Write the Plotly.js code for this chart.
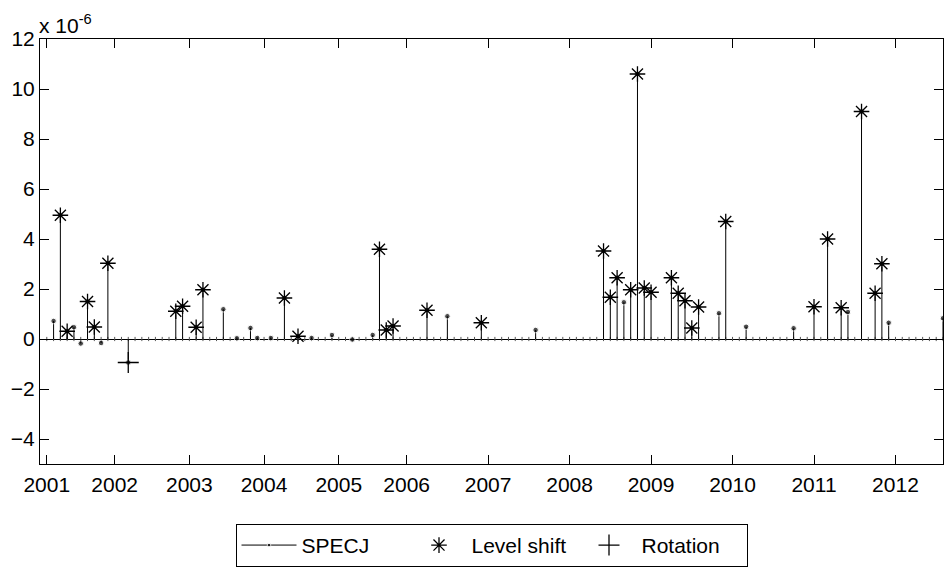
<!DOCTYPE html>
<html>
<head>
<meta charset="utf-8">
<script src="https://cdn.plot.ly/plotly-3.0.1.min.js"></script>
<style>html,body{margin:0;padding:0;background:#fff;}#chart{width:944px;height:570px;}</style>
</head>
<body>
<div id="chart"></div>
<script>
// Observation count (x axis is the observation index)
const nObs = 133;
// Year labels and the observation index where each year starts
const yearLabels = ['2001','2002','2003','2004','2005','2006','2007','2008','2009','2010','2011','2012'];
const yearStartIdx = [1, 11, 22, 33, 44, 54, 66, 78, 90, 102, 114, 126];
// SPECJ non-zero observations (index, value in units of 1e-6)
const specjIdx = [2,3,4,5,6,7,8,9,10,13,20,21,23,24,27,29,31,32,34,36,38,40,43,46,49,50,51,52,57,60,65,73,83,84,85,86,87,88,89,90,93,94,95,96,97,100,101,104,111,114,116,118,119,121,123,124,125,133];
const specjVal = [0.72,4.95,0.31,0.47,-0.18,1.5,0.48,-0.16,3.03,-0.94,1.11,1.31,0.47,1.97,1.19,0.03,0.44,0.04,0.04,1.64,0.11,0.04,0.16,-0.02,0.16,3.59,0.36,0.52,1.15,0.91,0.65,0.36,3.52,1.67,2.45,1.47,1.97,10.6,2.04,1.87,2.45,1.83,1.53,0.44,1.28,1.03,4.7,0.49,0.43,1.29,4.0,1.25,1.08,9.1,1.83,3.01,0.65,0.83];
// Observations flagged as level shifts and rotations
const levelShiftIdx = [3,4,7,8,10,20,21,23,24,36,38,50,51,52,57,65,83,84,85,87,88,89,90,93,94,95,96,97,101,114,116,118,121,123,124];
const rotationIdx = [13];

const valueAt = {};
specjIdx.forEach((k, i) => { valueAt[k] = specjVal[i]; });

// stems
const sx = [], sy = [], ss = [];
specjIdx.forEach((k, i) => {
  sx.push(k, k, null); sy.push(0, specjVal[i], null); ss.push(0, 5.5, 5.5);
});
const allIdx = [];
for (let i = 1; i <= nObs; i++) allIdx.push(i);

const FONT = 'Liberation Sans, Arial, sans-serif';
const FS = 21;

const traces = [
  { x: allIdx, y: allIdx.map(() => 0), type: 'scatter', mode: 'markers', showlegend: false, hoverinfo: 'skip',
    marker: { symbol: 'line-ns-open', size: 3, color: '#555', line: { color: '#555', width: 1 } } },
  { x: sx, y: sy, type: 'scatter', mode: 'lines+markers', name: 'SPECJ', connectgaps: false,
    line: { color: '#000', width: 1 },
    marker: { symbol: 'circle', size: ss, color: '#000' } },
  { x: levelShiftIdx, y: levelShiftIdx.map(k => valueAt[k]), type: 'scatter', mode: 'markers', name: 'Level shift',
    marker: { symbol: 'asterisk-open', size: 13, color: '#000', line: { color: '#000', width: 1.3 } } },
  { x: rotationIdx, y: rotationIdx.map(k => valueAt[k]), type: 'scatter', mode: 'markers', name: 'Rotation',
    marker: { symbol: 'cross-thin-open', size: 15, color: '#000', line: { color: '#000', width: 1.3 } } }
];

const layout = {
  width: 944, height: 570,
  margin: { l: 40, r: 1, t: 39, b: 106, autoexpand: false },
  paper_bgcolor: '#fff', plot_bgcolor: '#fff',
  font: { family: FONT, size: FS, color: '#000' },
  showlegend: true,
  legend: {
    orientation: 'h', x: 0.5, xanchor: 'center', y: -0.141, yanchor: 'top',
    bordercolor: '#000', borderwidth: 1, bgcolor: '#fff',
    font: { family: FONT, size: FS, color: '#000' }, itemwidth: 55,
    entrywidth: 100, entrywidthmode: 'pixels'
  },
  xaxis: {
    range: [0, nObs], tickmode: 'array', tickvals: yearStartIdx, ticktext: yearLabels,
    ticks: 'inside', ticklen: 9, tickcolor: '#000', tickwidth: 1, ticklabelstandoff: 2,
    showline: true, linecolor: '#000', linewidth: 1, mirror: 'allticks',
    showgrid: false, zeroline: false, tickfont: { family: FONT, size: FS, color: '#000' }
  },
  yaxis: {
    range: [-5, 12], tickmode: 'array', tickvals: [-4,-2,0,2,4,6,8,10,12],
    ticks: 'inside', ticklen: 9, tickcolor: '#000', tickwidth: 1,
    showline: true, linecolor: '#000', linewidth: 1, mirror: 'allticks',
    showgrid: false, zeroline: true, zerolinecolor: '#000', zerolinewidth: 1,
    tickfont: { family: FONT, size: FS, color: '#000' }
  },
  annotations: [{
    text: 'x 10<sup>-6</sup>', xref: 'paper', yref: 'paper', x: 0, y: 1, xanchor: 'left', yanchor: 'bottom',
    showarrow: false, font: { family: FONT, size: 21, color: '#000' }, xshift: -3, yshift: 0
  }]
};

Plotly.newPlot('chart', traces, layout, { displayModeBar: false, staticPlot: true });
</script>
</body>
</html>
